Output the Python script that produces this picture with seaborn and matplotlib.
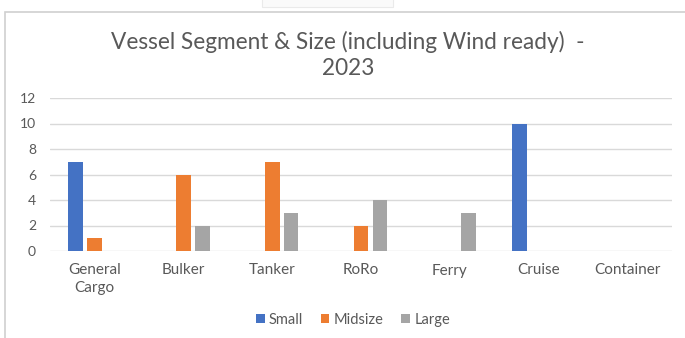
import matplotlib
matplotlib.use("Agg")
import matplotlib.pyplot as plt
from matplotlib.patches import Rectangle
import seaborn as sns
import pandas as pd

categories = ["General\nCargo", "Bulker", "Tanker", "RoRo", "Ferry", "Cruise", "Container"]
small = [7, 0, 0, 0, 0, 10, 0]
midsize = [1, 6, 7, 2, 0, 0, 0]
large = [0, 2, 3, 4, 3, 0, 0]
sizes = ["Small", "Midsize", "Large"]
colors = ["#4472C4", "#ED7D31", "#A5A5A5"]
title = "Vessel Segment & Size (including Wind ready)  -\n2023"

df = pd.DataFrame({
    "Segment": categories * 3,
    "Size": [s for s in sizes for _ in categories],
    "Count": small + midsize + large,
})

sns.set_theme(style="white")
plt.rcParams["font.family"] = ["Lato", "DejaVu Sans"]
text_color = "#595959"

fig = plt.figure(figsize=(6.85, 3.38), dpi=100)
fig.patch.set_facecolor("white")

# chart frame
fig.patches.append(Rectangle((5 / 685, -0.1), 1.2, 1 - 12 / 338 + 0.1,
                             transform=fig.transFigure, fill=False,
                             edgecolor="#D0D0D0", linewidth=1.2))
fig.patches.append(Rectangle((262 / 685, 1 - 7 / 338), 131 / 685, 0.1,
                             transform=fig.transFigure, fill=True,
                             facecolor="#FAFAFA", edgecolor="#EAEAEA", linewidth=0.8))

ax = fig.add_axes([50 / 685, 1 - 251 / 338, 622 / 685, 153 / 338])
sns.barplot(data=df, x="Segment", y="Count", hue="Size", hue_order=sizes,
            palette=colors, width=0.64, gap=0.22, ax=ax, legend=False,
            saturation=1, edgecolor="none", errorbar=None)

ax.set_ylim(0, 12)
ax.set_yticks(range(0, 13, 2))
ax.set_xlim(-0.5, len(categories) - 0.5)
ax.yaxis.grid(True, color="#D9D9D9", linewidth=1)
ax.set_axisbelow(True)
for side in ["top", "right", "left", "bottom"]:
    ax.spines[side].set_visible(False)
ax.set_xlabel("")
ax.set_ylabel("")
ax.tick_params(axis="x", length=0, pad=9, labelsize=11, labelcolor=text_color)
ax.tick_params(axis="y", length=0, pad=10, labelsize=10, labelcolor=text_color)
for lbl in ax.get_xticklabels():
    lbl.set_linespacing(1.35)

fig.text(348 / 685, 1 - 55 / 338, title, ha="center", va="center",
         fontsize=16.3, color=text_color, linespacing=1.3)

handles = [Rectangle((0, 0), 1, 1, facecolor=c, edgecolor="none") for c in colors]
fig.legend(handles, sizes, loc="center", bbox_to_anchor=(353 / 685, 1 - 320 / 338),
           ncol=3, frameon=False, fontsize=10.5, handlelength=0.6, handleheight=0.6,
           handletextpad=0.3, columnspacing=1.2, labelcolor=text_color)

fig.savefig("out.png", dpi=100, facecolor="white")
